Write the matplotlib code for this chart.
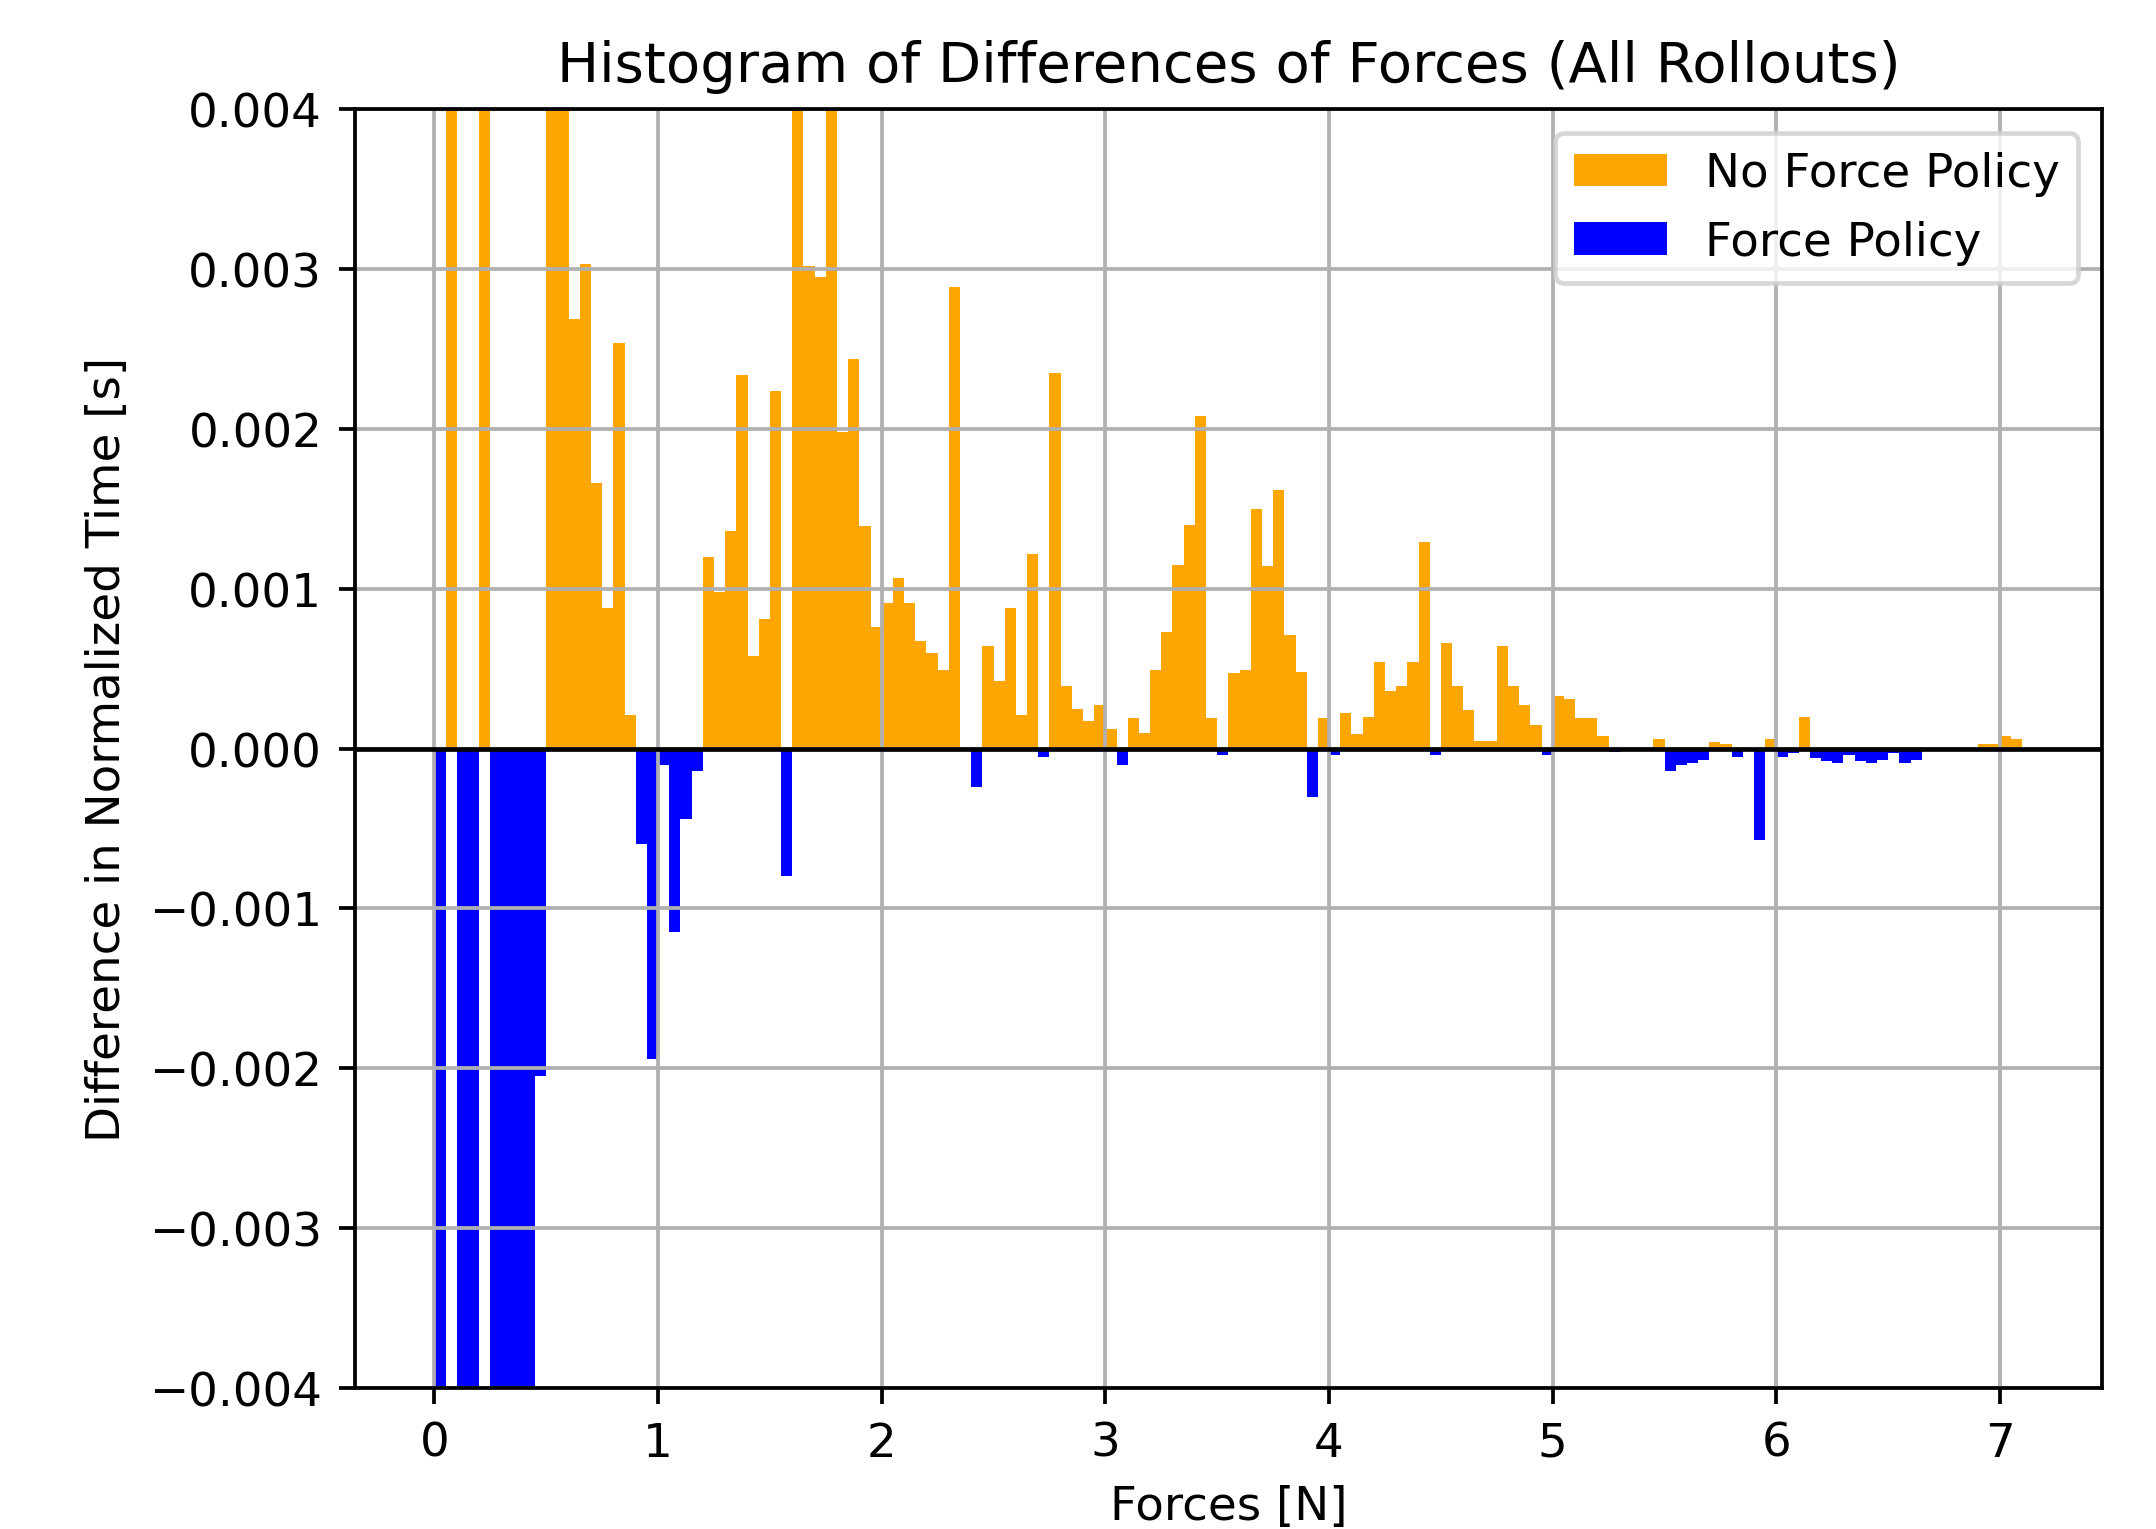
import numpy as np
import matplotlib
matplotlib.use('Agg')
from matplotlib import pyplot as plt

# difference of histograms (no force - force), one value per 0.05 N bin, in ms
bin_width = 0.05
diff_ms = [
    -6.5, 6.0, -5.5, -5.5, 5.5, -6.0, -6.0, -5.5, -5.0, -2.05,
    5.0, 4.5, 2.69, 3.03, 1.66, 0.88, 2.54, 0.21, -0.6, -1.94,
    -0.1, -1.15, -0.44, -0.14, 1.20, 0.98, 1.36, 2.34, 0.58, 0.81,
    2.24, -0.8, 4.8, 3.02, 2.95, 4.6, 1.98, 2.44, 1.39, 0.76,
    0.91, 1.07, 0.91, 0.67, 0.60, 0.49, 2.89, 0.0, -0.24, 0.64,
    0.42, 0.88, 0.21, 1.22, -0.05, 2.35, 0.39, 0.25, 0.17, 0.27,
    0.12, -0.1, 0.19, 0.1, 0.49, 0.73, 1.15, 1.40, 2.08, 0.19,
    -0.04, 0.47, 0.49, 1.50, 1.14, 1.62, 0.71, 0.48, -0.30, 0.19,
    -0.04, 0.22, 0.09, 0.2, 0.54, 0.36, 0.39, 0.54, 1.29, -0.04,
    0.66, 0.39, 0.24, 0.05, 0.05, 0.64, 0.39, 0.27, 0.15, -0.04,
    0.33, 0.31, 0.19, 0.19, 0.08, -0.02, 0.01, 0.01, 0.01, 0.06,
    -0.14, -0.1, -0.09, -0.07, 0.04, 0.03, -0.05, 0.0, -0.57, 0.06,
    -0.05, -0.03, 0.2, -0.06, -0.08, -0.09, -0.04, -0.08, -0.09, -0.07,
    -0.03, -0.09, -0.07, 0.0, 0.0, 0.0, 0.0, 0.0, 0.03, 0.03,
    0.08, 0.06,
]

diff = np.array(diff_ms) / 1000.0
left_edges = np.arange(len(diff)) * bin_width
no_force = np.where(diff > 0, diff, 0)   # no force policy took longer
force = np.where(diff < 0, diff, 0)      # force policy took longer

fig = plt.figure(figsize=(6.4, 4.54), dpi=337)
plt.subplots_adjust(left=0.1646, right=0.9745, top=0.928, bottom=0.0922)

plt.bar(left_edges, no_force, width=bin_width, align='edge', color='orange', label='No Force Policy')
plt.bar(left_edges, force, width=bin_width, align='edge', color='blue', label='Force Policy')
plt.axhline(0, color='black', linewidth=1)

plt.ylim(-0.004, 0.004)
plt.grid(True)
plt.xlabel('Forces [N]')
plt.ylabel('Difference in Normalized Time [s]')
plt.title('Histogram of Differences of Forces (All Rollouts)')
plt.legend(loc='upper right')

plt.savefig('out.png', dpi=337)
